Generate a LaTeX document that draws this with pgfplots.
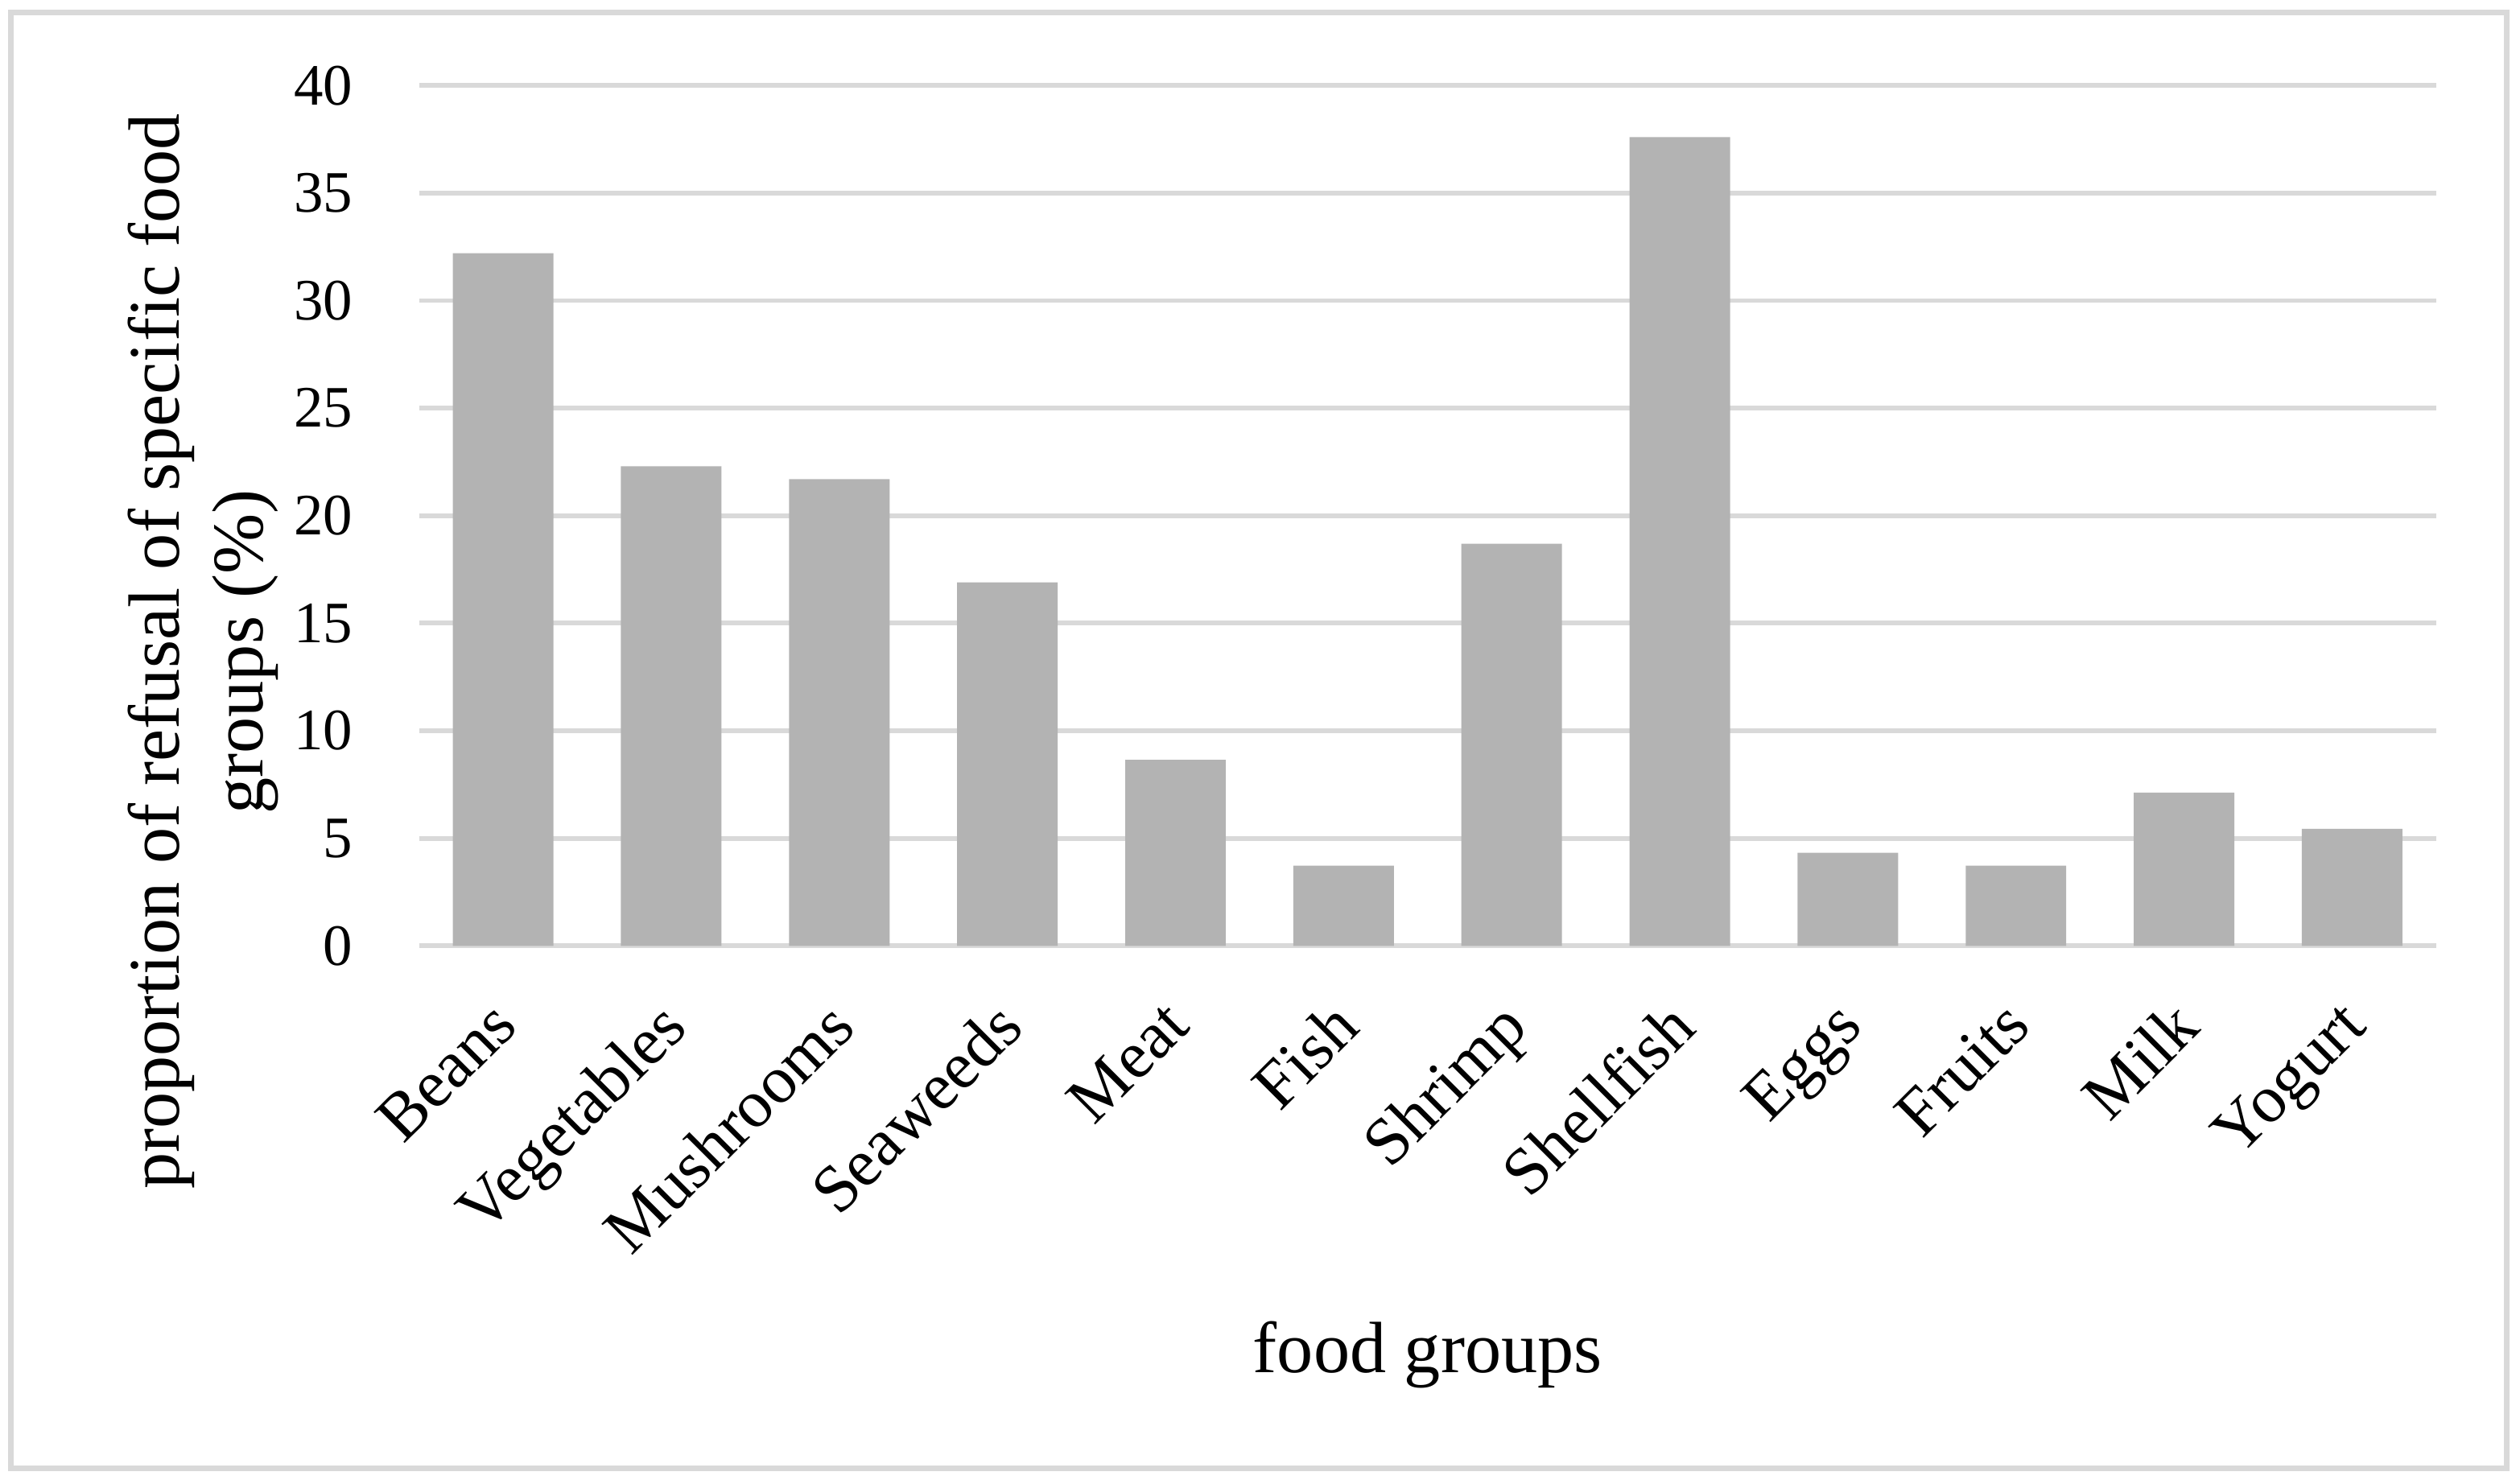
\documentclass[border=0pt]{standalone}
\usepackage{pgfplots}
\pgfplotsset{compat=1.18}
\usepackage{fontspec}
\setmainfont{Liberation Serif}
\definecolor{barg}{HTML}{B3B3B3}
\definecolor{gridg}{HTML}{D9D9D9}
\begin{document}
\begin{tikzpicture}
\useasboundingbox (-75pt,-95.5pt) rectangle (376pt,169.3pt);
\draw[gridg, line width=1pt] (-73.1pt,-93.5pt) rectangle (373.6pt,167.0pt);
\begin{axis}[
  width=361pt, height=154pt, scale only axis,
  at={(0,0)}, anchor=south west,
  xmin=-0.5, xmax=11.5, ymin=0, ymax=40,
  ybar, bar width=18pt,
  xtick={0,1,2,3,4,5,6,7,8,9,10,11},
  xticklabels={Beans,Vegetables,Mushrooms,Seaweeds,Meat,Fish,Shrimp,Shellfish,Eggs,Fruits,Milk,Yogurt},
  ytick={0,5,10,15,20,25,30,35,40},
  axis line style={draw=none},
  major tick length=0pt,
  ymajorgrids, grid style={gridg, line width=0.85pt},
  /pgf/number format/assume math mode=true,
  yticklabel style={font=\fontsize{10.5}{12}\selectfont, anchor=east, inner sep=0pt, xshift=-11.7pt},
  xticklabel style={font=\fontsize{12}{14}\selectfont, rotate=45, anchor=north east, inner sep=0pt, yshift=-4.5pt, xshift=-8.2pt},
  ylabel={proportion of refusal of specific food\\groups (\%)},
  ylabel style={font=\fontsize{13}{15}\selectfont, align=center, at={(axis description cs:-0.069,0.342)}, anchor=south, rotate=0, inner sep=0pt},
  xlabel={food groups},
  xlabel style={font=\fontsize{13}{15}\selectfont, at={(axis description cs:0.5,-0.435)}, anchor=north, inner sep=0pt},
]
\addplot[fill=barg, draw=none] coordinates {
  (0,32.2) (1,22.3) (2,21.7) (3,16.9) (4,8.65) (5,3.73)
  (6,18.7) (7,37.6) (8,4.33) (9,3.73) (10,7.13) (11,5.44)
};
\end{axis}
\end{tikzpicture}
\end{document}
